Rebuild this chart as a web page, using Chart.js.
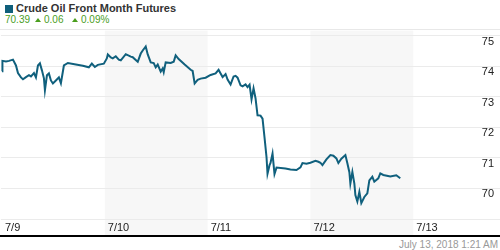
<!DOCTYPE html>
<html>
<head>
<meta charset="utf-8">
<script src="https://cdn.jsdelivr.net/npm/chart.js@4"></script>
<style>
  body { margin: 0; width: 500px; height: 250px; overflow: hidden; background: #fff; font-family: 'Liberation Sans', Arial, sans-serif; }
  #head { position: relative; height: 29px; }
  #head .sq { position: absolute; left: 5px; top: 5px; width: 8px; height: 8px; background: #0f5f7b; }
  #head .title { position: absolute; left: 16px; top: 2px; font-size: 11px; line-height: 13px; font-weight: bold; color: #333; white-space: nowrap; }
  #head .q { position: absolute; top: 14px; font-size: 10px; line-height: 12px; color: #4a9e1e; white-space: nowrap; }
  #head .up { position: absolute; top: 18px; width: 0; height: 0; border-left: 3.5px solid transparent; border-right: 3.5px solid transparent; border-bottom: 4px solid #4a9e1e; }
  #wrap { position: relative; width: 500px; height: 205px; border-top: 1px solid #e8e8e8; border-bottom: 2px solid #000; }
  #stamp { position: absolute; right: 2px; top: 239px; font-size: 10px; color: #999; }
</style>
</head>
<body>
<div id="head">
  <div class="sq"></div>
  <div class="title">Crude Oil Front Month Futures</div>
  <span class="q" style="left:5px">70.39</span>
  <span class="up" style="left:35px"></span>
  <span class="q" style="left:44px">0.06</span>
  <span class="up" style="left:72px"></span>
  <span class="q" style="left:81px">0.09%</span>
</div>
<div id="wrap"><canvas id="oilChart"></canvas></div>
<div id="stamp">July 13, 2018 1:21 AM</div>
<script>
// hours since 7/9 00:00
const hours = [0.0, 0.1, 0.93, 1.63, 2.56, 3.26, 3.73, 4.43, 4.89, 5.59, 6.29, 6.76, 7.46, 7.92, 8.39, 8.85, 9.32, 9.79, 10.02, 10.49,
  10.95, 11.42, 11.88, 12.58, 13.28, 13.75, 14.45, 15.38, 17.24, 18.87, 20.27, 20.97, 21.67, 22.37, 23.77, 24.47, 24.70, 25.40, 25.86, 26.56,
  27.26, 27.73, 28.89, 30.06, 30.52, 31.22, 31.69, 32.39, 32.85, 33.55, 34.02, 34.72, 35.42, 35.88, 36.35, 37.05, 37.51, 37.75, 38.21, 39.38,
  40.08, 40.54, 41.24, 42.64, 44.04, 44.50, 44.97, 45.67, 46.37, 47.53, 48.70, 49.86, 50.56, 51.03, 51.50, 52.19, 52.66, 53.36, 54.06, 54.52,
  54.99, 55.69, 56.16, 56.85, 57.32, 57.79, 58.25, 58.72, 59.18, 59.65, 60.35, 60.82, 61.28, 61.75, 61.98, 62.45, 62.68, 63.15, 63.61, 64.08,
  66.17, 67.34, 68.74, 69.67, 70.14, 71.07, 72.00, 73.17, 73.86, 74.33, 74.80, 75.73, 76.66, 77.36, 78.06, 78.52, 79.22, 80.16, 80.62, 81.09,
  81.32, 81.79, 82.25, 82.49, 82.95, 83.42, 83.88, 84.58, 85.28, 85.75, 86.45, 86.91, 87.84, 88.31, 89.01, 90.64, 92.04, 92.97];

const prices = [73.83, 74.17, 74.15, 74.17, 74.21, 74.02, 73.77, 73.63, 73.57, 73.64, 73.70, 73.66, 73.77, 73.63, 74.02, 74.09, 73.86, 73.60, 73.21, 73.70,
  73.76, 73.53, 73.43, 73.53, 73.63, 73.44, 74.02, 74.10, 74.05, 74.01, 73.96, 74.08, 73.97, 74.04, 74.08, 74.25, 74.38, 74.28, 74.25, 74.32,
  74.21, 74.19, 74.39, 74.31, 74.29, 74.20, 74.14, 74.41, 74.51, 74.64, 74.38, 74.12, 74.10, 73.96, 74.05, 73.82, 73.92, 73.80, 74.12, 74.10,
  74.14, 74.35, 74.23, 74.05, 73.88, 73.84, 73.43, 73.55, 73.59, 73.62, 73.71, 73.76, 73.88, 73.76, 73.64, 73.74, 73.56, 73.40, 73.66, 73.68,
  73.62, 73.37, 73.34, 73.40, 73.31, 73.39, 72.91, 73.27, 72.95, 72.39, 72.38, 72.28, 71.67, 71.02, 70.48, 70.76, 70.83, 71.14, 70.47, 70.68,
  70.65, 70.62, 70.60, 70.69, 70.83, 70.81, 70.84, 70.90, 70.87, 70.84, 70.76, 70.95, 71.09, 71.07, 70.98, 70.83, 70.97, 71.09, 70.82, 70.53,
  70.16, 70.54, 70.16, 69.78, 69.57, 69.89, 69.52, 69.72, 69.84, 70.26, 70.38, 70.22, 70.33, 70.49, 70.44, 70.39, 70.43, 70.33];

const dayHours = [0, 24, 48, 72, 96];
const dayLabels = ['7/9', '7/10', '7/11', '7/12', '7/13'];
const priceTicks = [69, 70, 71, 72, 73, 74, 75];
const shadedDays = [[24, 48], [72, 96]];

const points = hours.map((h, i) => ({ x: h, y: prices[i] }));

// grey bands behind alternate days
const dayBands = {
  id: 'dayBands',
  beforeDraw(chart) {
    const { ctx, chartArea, scales } = chart;
    ctx.save();
    ctx.fillStyle = '#f7f7f7';
    shadedDays.forEach(([a, b]) => {
      const x1 = scales.x.getPixelForValue(a);
      const x2 = scales.x.getPixelForValue(b);
      ctx.fillRect(x1, chartArea.top, x2 - x1, scales.x.bottom - chartArea.top);
    });
    ctx.restore();
  }
};

new Chart(document.getElementById('oilChart'), {
  type: 'line',
  data: {
    datasets: [{
      data: points,
      borderColor: '#10607d',
      borderWidth: 2,
      pointRadius: 0,
      tension: 0,
      fill: false
    }]
  },
  options: {
    responsive: true,
    maintainAspectRatio: false,
    animation: false,
    layout: { autoPadding: false, padding: 0 },
    plugins: { legend: { display: false }, tooltip: { enabled: false } },
    scales: {
      x: {
        type: 'linear',
        min: -0.25,
        max: 116.25,
        grid: { display: false, drawTicks: false },
        border: { display: false },
        afterBuildTicks: s => { s.ticks = dayHours.map(v => ({ value: v })); },
        afterFit: s => { s.height = 16; },
        ticks: {
          align: 'start',
          labelOffset: 3,
          padding: 2,
          maxRotation: 0,
          autoSkip: false,
          color: '#222',
          font: { family: "'Liberation Sans', Arial, sans-serif", size: 11 },
          callback: v => dayLabels[dayHours.indexOf(v)]
        }
      },
      y: {
        position: 'right',
        min: 69,
        max: 75.16,
        grid: { color: '#ebebeb', drawTicks: false },
        border: { display: false },
        afterBuildTicks: s => { s.ticks = priceTicks.map(v => ({ value: v })); },
        afterFit: s => { s.width = 0; },
        ticks: {
          mirror: true,
          padding: -6,
          labelOffset: 6,
          color: '#222',
          font: { family: "'Liberation Sans', Arial, sans-serif", size: 11 },
          callback: v => (v === 69 ? '' : String(v))
        }
      }
    }
  },
  plugins: [dayBands]
});
</script>
</body>
</html>
